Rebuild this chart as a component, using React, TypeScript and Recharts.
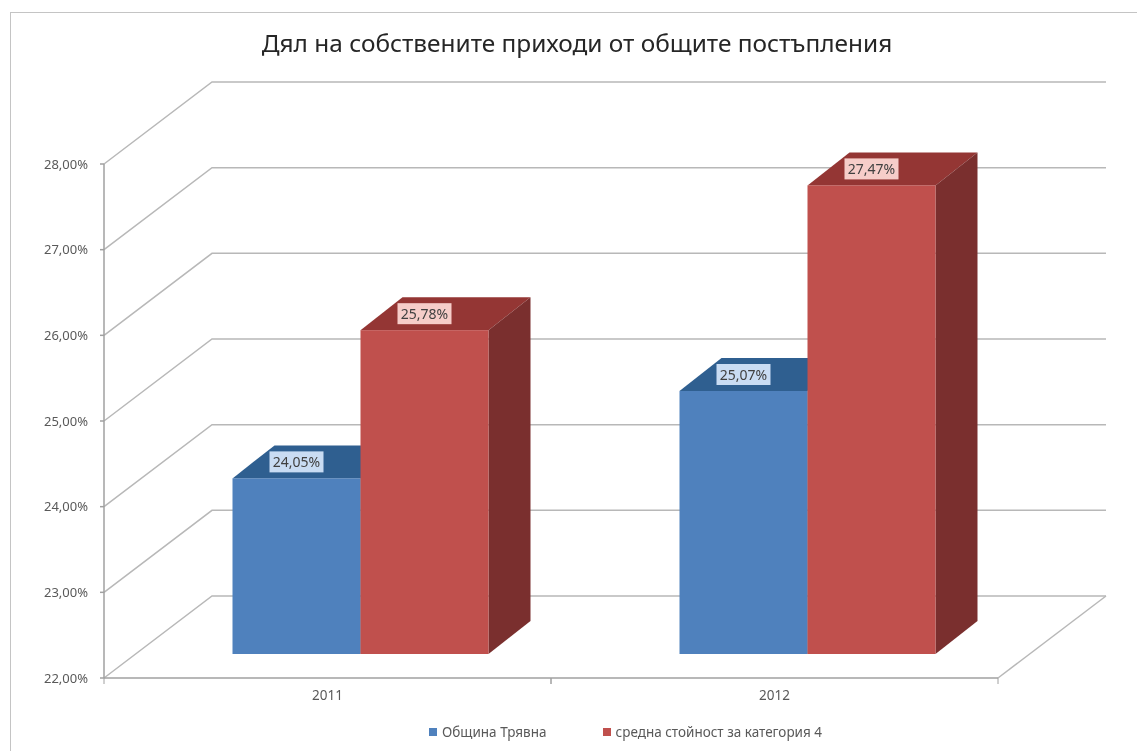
import { Bar, BarChart, CartesianGrid, LabelList, Legend, XAxis, YAxis } from 'recharts';

const years = ['2011', '2012'];
const municipality = [24.05, 25.07];
const categoryAverage = [25.78, 27.47];
const yTicks = [22, 23, 24, 25, 26, 27, 28];

const chartData = years.map((year, i) => ({
    year,
    municipality: municipality[i],
    categoryAverage: categoryAverage[i]
}));

const PLOT_LEFT = 104;
const PLOT_RIGHT = 998;
const PLOT_TOP = 164;
const PLOT_BOTTOM = 678;
const BAND = (PLOT_RIGHT - PLOT_LEFT) / years.length;

// 3D look: back wall offset, and how far the columns sit in from the front edge
const WALL_DX = 108;
const WALL_DY = -82;
const FRONT_DX = 32.5;
const FRONT_DY = -24;
const BOX_DX = 42;
const BOX_DY = -33;

const GRID = '#b8b8b8';
const AXIS = '#a0a0a0';
const TEXT = '#595959';
const FONT = '"Noto Sans", sans-serif';

const formatPercent = (v: number) => `${v.toFixed(2).replace('.', ',')}%`;

function WallLine(props: any) {
    const { x1, x2, y1 } = props;
    const by = y1 + WALL_DY;
    const isFloor = Math.abs(y1 - PLOT_BOTTOM) < 1;
    return (
        <g>
            <polyline
                points={`${x1},${y1} ${x1 + WALL_DX},${by} ${x2 + WALL_DX},${by}`}
                fill="none"
                stroke={GRID}
                strokeWidth={1.5}
            />
            {isFloor && (
                <line
                    x1={x2}
                    y1={y1}
                    x2={x2 + WALL_DX}
                    y2={by}
                    stroke={GRID}
                    strokeWidth={1.5}
                />
            )}
        </g>
    );
}

function makeBox(front: string, top: string, side: string) {
    return function Box(props: any) {
        const { x, y, width, height } = props;
        const l = x + FRONT_DX;
        const r = l + width;
        const t = y + FRONT_DY;
        const b = t + height;
        return (
            <g>
                <polygon
                    points={`${l},${t} ${l + BOX_DX},${t + BOX_DY} ${r + BOX_DX},${t + BOX_DY} ${r},${t}`}
                    fill={top}
                />
                <polygon
                    points={`${r},${t} ${r + BOX_DX},${t + BOX_DY} ${r + BOX_DX},${b + BOX_DY} ${r},${b}`}
                    fill={side}
                />
                <rect x={l} y={t} width={width} height={height} fill={front} />
            </g>
        );
    };
}

function makeValueLabel(bg: string) {
    return function ValueLabel(props: any) {
        const { x, y, width, value } = props;
        const cx = x + width / 2 + FRONT_DX;
        const cy = y + FRONT_DY - 16.5;
        return (
            <g>
                <rect x={cx - 27} y={cy - 10.5} width={54} height={21} fill={bg} />
                <text
                    x={cx}
                    y={cy + 5}
                    textAnchor="middle"
                    fontSize={14}
                    fontFamily={FONT}
                    fill="#404040"
                >
                    {formatPercent(value)}
                </text>
            </g>
        );
    };
}

function YearTick(props: any) {
    const { x, y, payload } = props;
    const marks = [x - BAND / 2, x + BAND / 2];
    return (
        <g>
            {marks.map((mx) => (
                <line
                    key={mx}
                    x1={mx}
                    y1={PLOT_BOTTOM}
                    x2={mx}
                    y2={PLOT_BOTTOM + 6}
                    stroke={AXIS}
                />
            ))}
            <text
                x={x}
                y={y + 14}
                textAnchor="middle"
                fontSize={13.5}
                fontFamily={FONT}
                fill={TEXT}
            >
                {payload.value}
            </text>
        </g>
    );
}

function LegendRow(props: any) {
    return (
        <div style={{ display: 'flex', fontFamily: FONT, fontSize: 13.5, color: TEXT }}>
            {props.payload.map((item: any) => (
                <div
                    key={item.value}
                    style={{ display: 'flex', alignItems: 'center', marginRight: 56 }}
                >
                    <span
                        style={{
                            width: 8,
                            height: 8,
                            marginRight: 5,
                            background: item.color
                        }}
                    />
                    {item.value}
                </div>
            ))}
        </div>
    );
}

export default function App() {
    return (
        <div
            style={{
                position: 'absolute',
                left: 0,
                top: 0,
                width: 1137,
                height: 751,
                overflow: 'hidden',
                background: '#fff',
                filter: 'blur(0.5px)'
            }}
        >
            <div
                style={{
                    position: 'absolute',
                    left: 10,
                    top: 12,
                    width: 1140,
                    height: 760,
                    border: '1.5px solid #c4c4c4'
                }}
            />
            <BarChart
                width={1137}
                height={751}
                data={chartData}
                barSize={128}
                barGap={0}
                barCategoryGap={0}
                margin={{
                    top: PLOT_TOP,
                    right: 1137 - PLOT_RIGHT,
                    bottom: 23,
                    left: PLOT_LEFT - 60
                }}
                style={{ position: 'absolute', left: 0, top: 0 }}
            >
                <text
                    x={577}
                    y={52}
                    textAnchor="middle"
                    fontSize={24.4}
                    fontFamily={FONT}
                    fill="#262626"
                >
                    Дял на собствените приходи от общите постъпления
                </text>
                <CartesianGrid vertical={false} horizontal={(p: any) => <WallLine {...p} />} />
                <XAxis
                    dataKey="year"
                    height={30}
                    tickLine={false}
                    stroke={AXIS}
                    strokeWidth={1.5}
                    tick={(p: any) => <YearTick {...p} />}
                />
                <YAxis
                    width={60}
                    domain={[22, 28]}
                    ticks={yTicks}
                    interval={0}
                    tickFormatter={formatPercent}
                    stroke={AXIS}
                    strokeWidth={1.5}
                    tickSize={4}
                    tickMargin={12}
                    tick={{ fontSize: 13, fontFamily: FONT, fill: TEXT }}
                />
                <Legend
                    height={20}
                    align="left"
                    verticalAlign="bottom"
                    wrapperStyle={{ left: 429, top: 723, width: 560 }}
                    content={(p: any) => <LegendRow {...p} />}
                />
                <Bar
                    dataKey="municipality"
                    name="Община Трявна"
                    fill="#4f81bd"
                    isAnimationActive={false}
                    shape={makeBox('#4f81bd', '#2f5f90', '#3a6188')}
                >
                    <LabelList dataKey="municipality" content={makeValueLabel('#c9dcf3')} />
                </Bar>
                <Bar
                    dataKey="categoryAverage"
                    name="средна стойност за категория 4"
                    fill="#c0504d"
                    isAnimationActive={false}
                    shape={makeBox('#c0504d', '#943634', '#7a2f2e')}
                >
                    <LabelList dataKey="categoryAverage" content={makeValueLabel('#f6cdc9')} />
                </Bar>
            </BarChart>
        </div>
    );
}
